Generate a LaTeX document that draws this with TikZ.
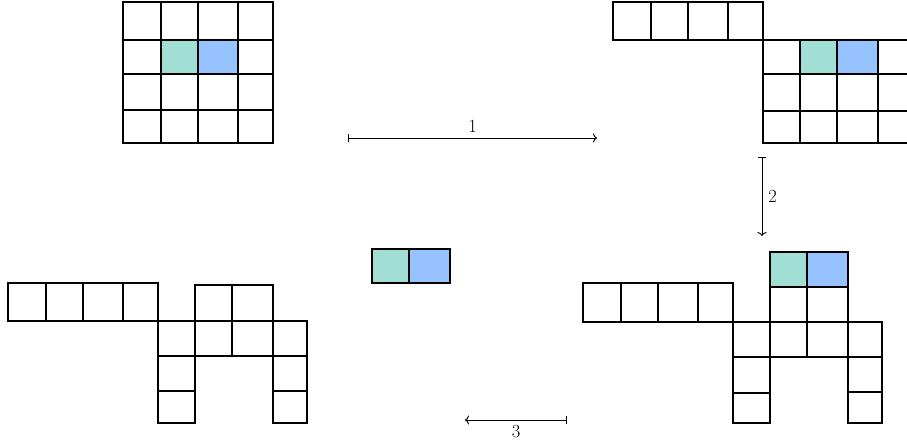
\documentclass[tikz,border=0pt]{standalone}
\usetikzlibrary{arrows.meta}
\definecolor{cellgreen}{RGB}{161,222,211}
\definecolor{cellblue}{RGB}{150,194,255}
\tikzset{
  cell/.style={draw=black, line width=1.2pt, line join=miter},
  gcell/.style={cell, fill=cellgreen},
  bcell/.style={cell, fill=cellblue},
  mapsto/.style={line width=0.9pt, {Bar[width=8pt,line width=0.9pt]}-{Computer Modern Rightarrow[length=4pt,width=9pt,line width=0.9pt]}},
  lbl/.style={inner sep=0pt, font=\fontsize{18.5}{22}\selectfont}
}
\begin{document}
\begin{tikzpicture}[x=1pt,y=-1pt]
\useasboundingbox (0,0) rectangle (907,447);
\clip (0,0) rectangle (907,447);
% ---- top-left 4x4 grid
\foreach \xa/\xb in {123/161,161/198,198/238,238/273}
  \foreach \ya/\yb in {2/40,40/74,74/110,110/143}
    \draw[cell] (\xa,\ya) rectangle (\xb,\yb);
\draw[gcell] (161,40) rectangle (198,74);
\draw[bcell] (198,40) rectangle (238,74);
% ---- top-right
\foreach \xa/\xb in {613/651,651/688,688/728,728/763}
  \draw[cell] (\xa,2) rectangle (\xb,40);
\foreach \xa/\xb in {763/800,800/837,837/878,878/915}
  \foreach \ya/\yb in {40/74,74/111,111/143}
    \draw[cell] (\xa,\ya) rectangle (\xb,\yb);
\draw[gcell] (800,40) rectangle (837,74);
\draw[bcell] (837,40) rectangle (878,74);
% ---- middle pair
\draw[gcell] (372,249) rectangle (409,283);
\draw[bcell] (409,249) rectangle (450,283);
% ---- bottom-right
\foreach \xa/\xb in {583/621,621/658,658/698,698/733}
  \draw[cell] (\xa,283) rectangle (\xb,322);
\draw[gcell] (770,252) rectangle (807,287);
\draw[bcell] (807,252) rectangle (848,287);
\draw[cell] (770,287) rectangle (807,322);
\draw[cell] (807,287) rectangle (848,322);
\foreach \xa/\xb in {733/770,770/807,807/848,848/882}
  \draw[cell] (\xa,322) rectangle (\xb,357);
\draw[cell] (733,357) rectangle (770,393);
\draw[cell] (733,393) rectangle (770,423);
\draw[cell] (848,357) rectangle (882,392);
\draw[cell] (848,392) rectangle (882,423);
% ---- bottom-left
\foreach \xa/\xb in {8/46,46/83,83/123,123/158}
  \draw[cell] (\xa,283) rectangle (\xb,321);
\draw[cell] (195,285) rectangle (232,321);
\draw[cell] (232,285) rectangle (273,321);
\foreach \xa/\xb in {158/195,195/232,232/273,273/307}
  \draw[cell] (\xa,321) rectangle (\xb,356);
\draw[cell] (158,356) rectangle (195,391);
\draw[cell] (158,391) rectangle (195,423);
\draw[cell] (273,356) rectangle (307,391);
\draw[cell] (273,391) rectangle (307,423);
% ---- arrows
\coordinate (a1s) at (348,138);
\coordinate (a1e) at (597,138);
\coordinate (a2s) at (762,157);
\coordinate (a2e) at (762,236);
\coordinate (a3s) at (567,420);
\coordinate (a3e) at (465,420);
\draw[mapsto] (a1s) -- node[lbl, above=5pt] (l1) {1} (a1e);
\draw[mapsto] (a2s) -- node[lbl, right=6pt] (l2) {2} (a2e);
\draw[mapsto] (a3s) -- node[lbl, below=5pt] (l3) {3} (a3e);
\end{tikzpicture}
\end{document}
